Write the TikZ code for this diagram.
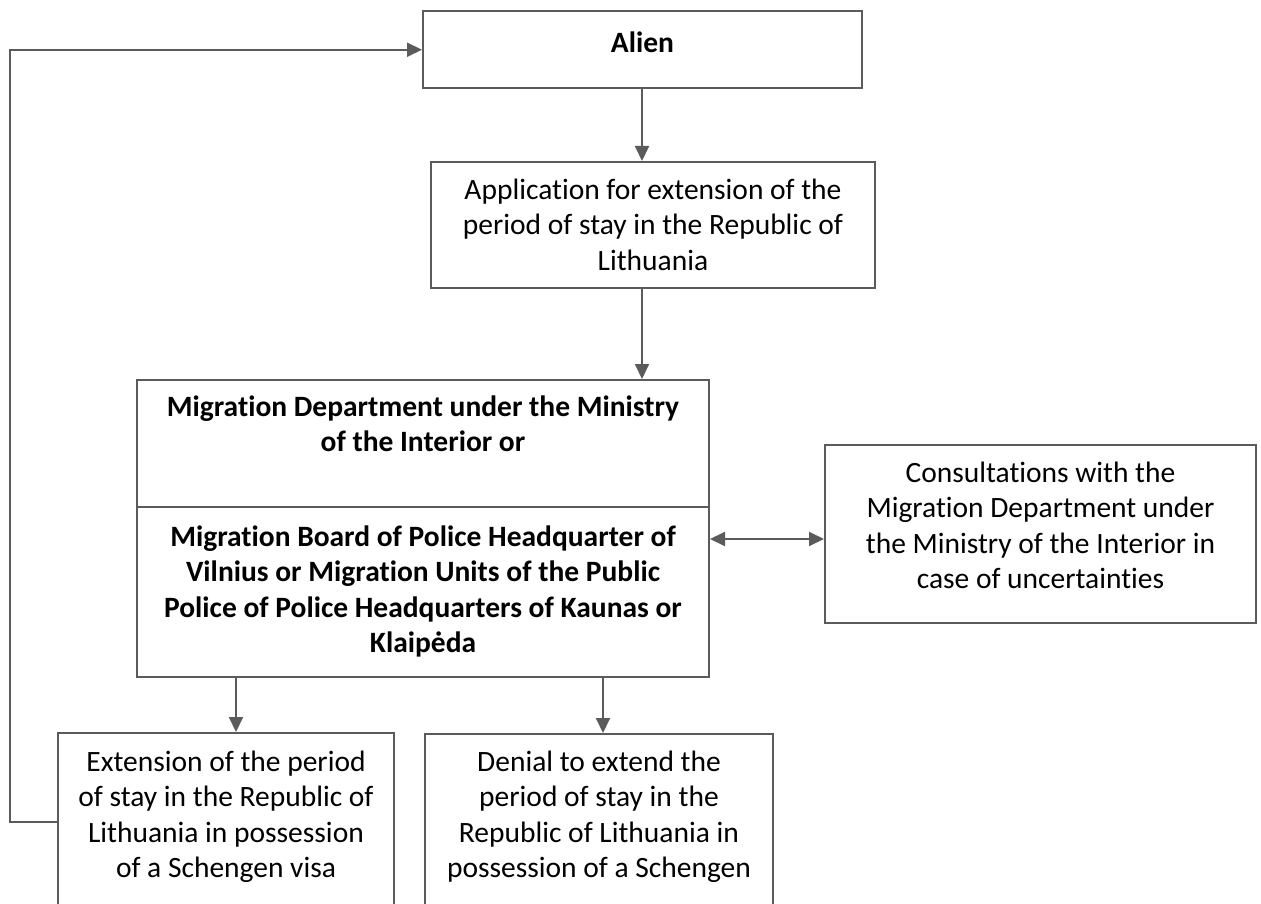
\documentclass[tikz,border=0pt]{standalone}
\usepackage{fontspec}
\setmainfont{Carlito}[Ligatures=NoCommon]
\usepackage{tikz}
\usetikzlibrary{arrows.meta,positioning,calc}
\definecolor{linegray}{HTML}{5B5B5B}

\begin{document}
\begin{tikzpicture}[x = 1pt, y = -1pt,
  box/.style = {draw = linegray, line width = 2pt, rectangle, inner sep = 0pt},
  txt/.style = {align = center, inner sep = 0pt,
    font = \fontsize{29.5}{35.5}\selectfont},
  bold/.style = {txt, font = \fontsize{29.5}{35.5}\selectfont\bfseries},
  flow/.style = {draw = linegray, line width = 2pt,
    -{Triangle[length=15pt, width=14pt]}},
  both/.style = {flow, {Triangle[length=15pt, width=14pt]}-{Triangle[length=15pt, width=14pt]}}]
\useasboundingbox (0,0) rectangle (1261,904);
\clip (0,0) rectangle (1261,904);

% boxes
\node[box, minimum width = 439pt, minimum height = 76.5pt] (alien) at (642.5,49.75) {};
\node[box, minimum width = 444pt, minimum height = 126pt] (app) at (653,225) {};
\node[box, minimum width = 572pt, minimum height = 127pt] (migtop) at (423,443.5) {};
\node[box, minimum width = 572pt, minimum height = 170pt] (migbot) at (423,592) {};
\node[box, minimum width = 431pt, minimum height = 178pt] (consult) at (1040.5,534) {};
\node[box, minimum width = 336pt, minimum height = 200pt] (extend) at (226,833) {};
\node[box, minimum width = 348pt, minimum height = 200pt] (deny) at (599,834) {};

% texts
\node[bold, below = 17pt of alien.north] (alientxt) {\strut Alien};
\node[txt, below = 13pt of app.north] (apptxt)
  {\strut Application for extension of the\\ period of stay in the Republic of\\ Lithuania};
\node[bold, below = 12pt of migtop.north] (migtoptxt)
  {\strut Migration Department under the Ministry\\ of the Interior or};
\node[bold, below = 15pt of migbot.north] (migbottxt)
  {\strut Migration Board of Police Headquarter of\\ Vilnius or Migration Units of the Public\\ Police of Police Headquarters of Kaunas or\\ Klaipėda};
\node[txt, below = 13pt of consult.north] (consulttxt)
  {\strut Consultations with the\\ Migration Department under\\ the Ministry of the Interior in\\ case of uncertainties};
\node[txt, below = 14pt of extend.north] (extendtxt)
  {\strut Extension of the period\\ of stay in the Republic of\\ Lithuania in possession\\ of a Schengen visa};
\node[txt, below = 13pt of deny.north] (denytxt)
  {\strut Denial to extend the\\ period of stay in the\\ Republic of Lithuania in\\ possession of a Schengen};

\coordinate (axis) at (642,0);
\coordinate (link) at (0,539);
\coordinate (leftdrop) at (236,0);
\coordinate (rightdrop) at (603,0);
\coordinate (back) at (9.5,822);

\draw[flow] (alien.south -| axis) -- (app.north -| axis);
\draw[flow] (app.south -| axis) -- (migtop.north -| axis);
\draw[both] (migbot.east |- link) -- (consult.west |- link);
\draw[flow] (migbot.south -| leftdrop) -- (extend.north -| leftdrop);
\draw[flow] (migbot.south -| rightdrop) -- (deny.north -| rightdrop);
\draw[flow] (extend.west |- back) -- (back) |- (alien.west);
\end{tikzpicture}
\end{document}
